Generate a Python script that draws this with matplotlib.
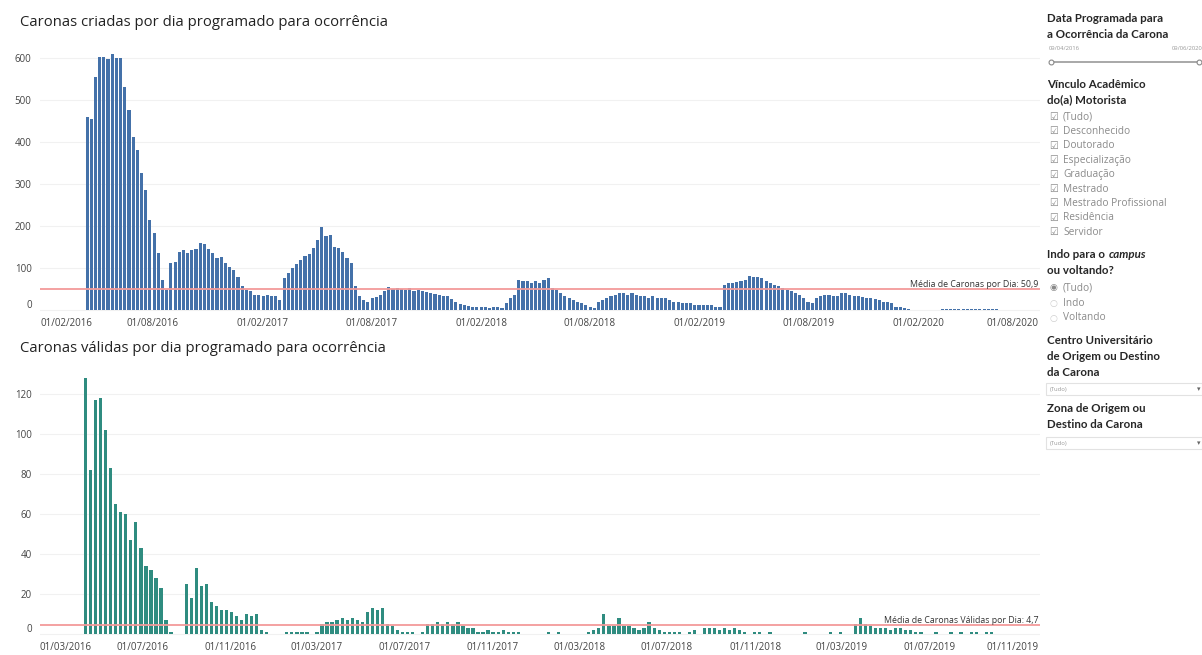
import numpy as np
import pandas as pd
import matplotlib
matplotlib.use("Agg")
import matplotlib.pyplot as plt
import matplotlib.dates as mdates
from matplotlib.transforms import ScaledTranslation
from matplotlib.patches import Rectangle

plt.rcParams['font.family'] = ['Open Sans', 'DejaVu Sans']

# caronas criadas: valor de pico por semana, a partir de 11/04/2016
inicio_criadas = '2016-04-11'
criadas_semana = [
    460, 455, 555, 603, 603, 598, 610, 600, 600, 532, 476, 413, 381, 326, 286, 214, 183, 135, 71, 48,
    111, 113, 139, 142, 135, 142, 146, 159, 156, 146, 135, 123, 127, 111, 103, 95, 79, 56, 48, 44,
    36, 36, 32, 36, 32, 32, 24,
    76, 87, 100, 110, 120, 128, 134, 147, 167, 198, 175, 178, 151, 147, 139, 123, 111, 56,
    32, 24, 20, 28, 30, 36, 45, 55, 50, 52, 50, 48, 52, 45, 48, 44, 42, 40, 38, 36,
    34, 32, 26, 20, 15, 12, 9, 8, 7, 6, 6, 5, 7, 6,
    5, 17, 28, 36, 71, 68, 68, 63, 68, 63, 71, 76, 52, 48, 40, 32, 28, 24, 20, 16,
    12, 8, 5, 20, 24, 28, 32, 36, 40, 40, 36, 40, 36, 32, 32, 28, 32, 28, 28, 28,
    24, 20, 20, 16, 16, 16, 12, 12, 12, 12, 12, 8, 8,
    60, 63, 65, 66, 68, 71, 80, 79, 78, 75, 68, 63, 60, 56, 52, 48, 44, 40, 36,
    28, 20, 16,
    28, 32, 36, 36, 34, 32, 40, 40, 36, 32, 32, 30, 28, 28, 26, 24, 20, 18, 16,
    8, 7, 5, 3,
    0, 0, 0, 0, 0, 0, 0,
    2, 2, 2, 2, 2, 2, 2, 2, 2, 2, 2, 2, 2, 2,
]
media_criadas = 50.9

# caronas válidas: valor de pico por semana, a partir de 11/04/2016
inicio_validas = '2016-04-11'
validas_semana = [
    128, 82, 117, 118, 102, 83, 65, 61, 60, 47, 56, 43, 34, 32, 28, 23, 7, 1, 0, 0,
    25, 18, 33, 24, 25, 16, 14, 12, 12, 11, 9, 7, 10, 9, 10, 2, 1, 0, 0,
    0, 1, 1, 1, 1, 1, 0, 1,
    5, 6, 6, 7, 8, 7, 8, 7, 6, 11, 13, 12, 13, 5, 4, 2, 1, 1, 1, 0, 1,
    5, 5, 6, 5, 6, 5, 6, 4, 3, 3,
    1, 1, 2, 1, 1, 2, 1, 1, 1,
    0, 0, 0, 0, 0, 1, 0, 1, 0, 0, 0, 0, 0,
    1, 2, 3, 10, 4, 4, 8, 4, 4, 3, 2, 3, 6, 3, 2, 1, 1,
    1, 1, 0, 1, 2, 0, 3, 3, 3, 2, 3, 2, 3, 2,
    1, 0, 1, 1, 0, 1,
    0, 0, 0, 0, 0, 0, 1, 0, 0, 0, 0, 1, 0, 1, 0, 0,
    5, 8, 5, 4, 3, 3, 3, 2, 3, 3, 2, 2, 1,
    1, 0, 0, 1, 0, 0, 1, 0, 1, 0, 1, 1, 0, 1, 1, 0, 0, 0, 0,
]
media_validas = 4.7

ticks_criadas = pd.date_range('2016-02-01', '2020-08-01', freq='6MS')
ticks_validas = pd.date_range('2016-03-01', '2019-11-01', freq='4MS')

W, H = 1202, 655
fig = plt.figure(figsize=(W / 100, H / 100), dpi=100)
fig.patch.set_facecolor('white')


def px(x, y):
    return x / W, 1 - y / H


def desloca(txt, dx, dy):
    txt.set_transform(txt.get_transform() + ScaledTranslation(dx / 100, dy / 100, fig.dpi_scale_trans))


def eixo(top, bottom):
    left, right = 40, 1040
    return fig.add_axes([left / W, 1 - bottom / H, (right - left) / W, (bottom - top) / H])


def desenhar(ax, inicio, valores, cor, media, texto_media, xlim, ylim, yticks, xticks, largura):
    datas = pd.date_range(inicio, periods=len(valores), freq='7D')
    ax.bar(datas, valores, width=largura, align='edge', color=cor, linewidth=0)
    ax.axhline(media, color='#f39a9a', lw=1.3, zorder=3)
    ax.text(0.998, media, texto_media, transform=ax.get_yaxis_transform(),
            ha='right', va='bottom', fontsize=6.3, color='#333333')
    ax.set_xlim(pd.Timestamp(xlim[0]), pd.Timestamp(xlim[1]))
    ax.set_ylim(*ylim)
    ax.set_yticks(yticks)
    ax.set_xticks(xticks)
    ax.xaxis.set_major_formatter(mdates.DateFormatter('%d/%m/%Y'))
    ax.grid(axis='y', color='#f1f1f1', lw=0.8)
    ax.set_axisbelow(True)
    for s in ax.spines.values():
        s.set_visible(False)
    ax.tick_params(length=0, labelsize=7, colors='#444444')
    ax.tick_params(axis='y', pad=6)
    ax.tick_params(axis='x', pad=4)
    # primeiro e último rótulo ficam dentro da área do gráfico
    labs = ax.get_xticklabels()
    labs[0].set_horizontalalignment('left')
    labs[-1].set_horizontalalignment('right')
    desloca(ax.get_yticklabels()[0], 0, 6)
    return labs


ax1 = eixo(45, 312)
labs = desenhar(ax1, inicio_criadas, criadas_semana, '#4471a9', media_criadas,
                'Média de Caronas por Dia: 50,9', ('2016-01-26', '2020-08-22'),
                (-5, 631), range(0, 601, 100), ticks_criadas, 5.2)
desloca(labs[0], -3, 0)
desloca(labs[-1], 11, 0)

ax2 = eixo(374, 636)
labs = desenhar(ax2, inicio_validas, validas_semana, '#2f8c80', media_validas,
                'Média de Caronas Válidas por Dia: 4,7', ('2016-02-10', '2019-12-02'),
                (-1, 130), range(0, 121, 20), ticks_validas, 4.6)
desloca(labs[0], -15, 0)
desloca(labs[-1], 21, 0)

fig.text(*px(20, 22), 'Caronas criadas por dia programado para ocorrência',
         fontsize=10.7, color='#222222', va='center')
fig.text(*px(20, 348), 'Caronas válidas por dia programado para ocorrência',
         fontsize=10.7, color='#222222', va='center')

# painel de filtros
cab = dict(fontsize=8.3, fontweight='bold', color='#262626', va='center', family='Lato')
item = dict(fontsize=7.3, color='#8a8a8a', va='center')
fig.text(*px(1047, 18), 'Data Programada para', **cab)
fig.text(*px(1047, 34), 'a Ocorrência da Carona', **cab)
fig.text(*px(1049, 48), '09/04/2016', fontsize=4.2, color='#999999', va='center')
fig.text(*px(1202, 48), '09/06/2020', fontsize=4.2, color='#999999', va='center', ha='right')
fig.add_artist(plt.Line2D([1051 / W, 1199 / W], [1 - 62 / H] * 2, color='#9a9a9a', lw=1.2))
for xx in (1051, 1199):
    fig.add_artist(plt.Line2D([xx / W], [1 - 62 / H], marker='o', ms=3.5,
                              mfc='white', mec='#888888', mew=0.8))

fig.text(*px(1047, 84), 'Vínculo Acadêmico', **cab)
fig.text(*px(1047, 100), 'do(a) Motorista', **cab)
vinculos = ['(Tudo)', 'Desconhecido', 'Doutorado', 'Especialização', 'Graduação',
            'Mestrado', 'Mestrado Profissional', 'Residência', 'Servidor']
for k, nome in enumerate(vinculos):
    y = 117 + k * 14.4
    fig.text(*px(1049, y), '☑', fontsize=7, color='#888888', va='center',
             family='DejaVu Sans')
    fig.text(*px(1063, y), nome, **item)

fig.text(*px(1047, 255), 'Indo para o', **cab)
fig.text(*px(1109, 255), 'campus', fontsize=8.3, fontweight='bold', fontstyle='italic',
         color='#262626', va='center', family='Lato')
fig.text(*px(1047, 271), 'ou voltando?', **cab)
for k, nome in enumerate(['(Tudo)', 'Indo', 'Voltando']):
    y = 288 + k * 15
    fig.text(*px(1049, y), '◉' if k == 0 else '○', fontsize=6.5,
             color='#888888' if k == 0 else '#cccccc', va='center', family='DejaVu Sans')
    fig.text(*px(1063, y), nome, **item)

fig.text(*px(1047, 340), 'Centro Universitário', **cab)
fig.text(*px(1047, 356), 'de Origem ou Destino', **cab)
fig.text(*px(1047, 372), 'da Carona', **cab)
fig.text(*px(1047, 408), 'Zona de Origem ou', **cab)
fig.text(*px(1047, 424), 'Destino da Carona', **cab)
for y0 in (383, 437):
    x0, y1 = px(1046, y0 + 12)
    fig.add_artist(Rectangle((x0, y1), 156 / W, 12 / H, transform=fig.transFigure,
                             fc='white', ec='#e2e2e2', lw=0.8))
    fig.text(*px(1050, y0 + 6), '(Tudo)', fontsize=4.2, color='#999999', va='center')
    fig.text(*px(1199, y0 + 6), '▾', fontsize=5, color='#666666', va='center',
             ha='center', family='DejaVu Sans')

fig.savefig('out.png', dpi=100)
